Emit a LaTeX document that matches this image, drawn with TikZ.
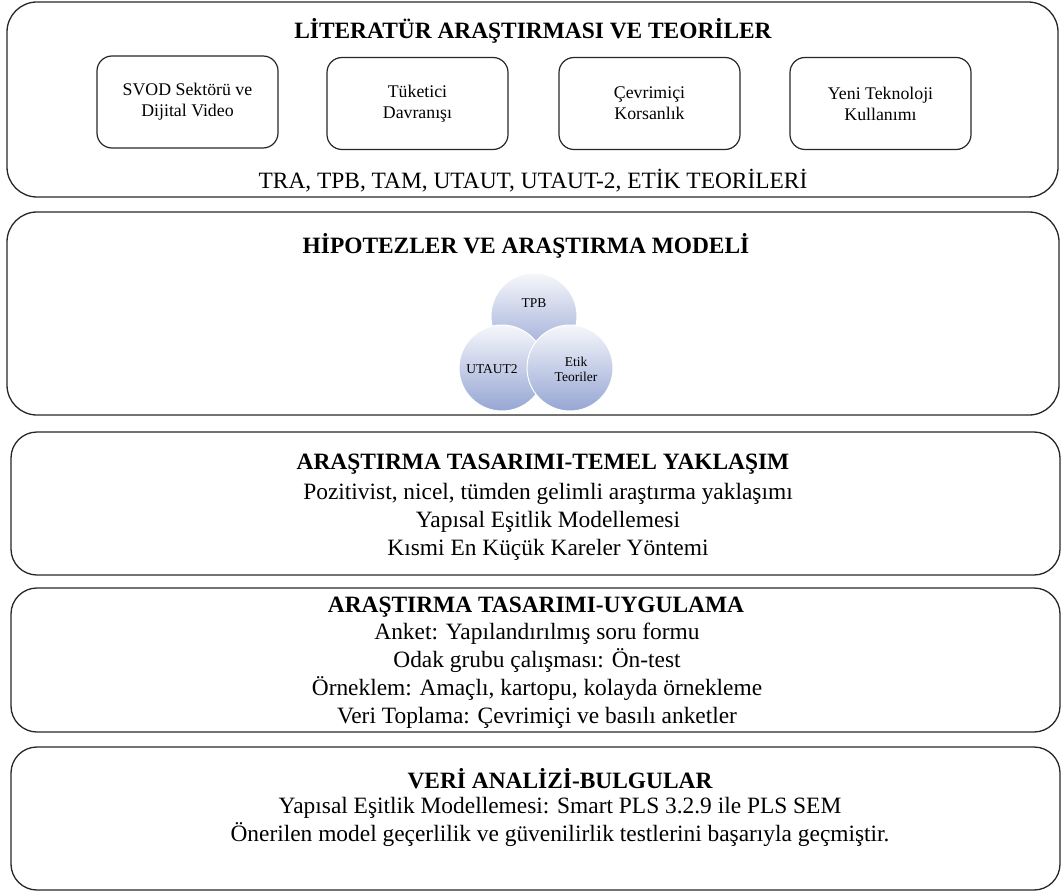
\documentclass[tikz,border=0pt]{standalone}
\usepackage{fontspec}
\setmainfont{Liberation Serif}
\definecolor{circtop}{RGB}{246,247,251}
\definecolor{circmid}{RGB}{214,221,238}
\definecolor{circbot}{RGB}{150,166,212}
\begin{document}
\begin{tikzpicture}[x=1pt,y=-1pt,
  bigbox/.style={draw=black!85,line width=1.3pt,rounded corners=26pt,inner sep=0pt},
  smallbox/.style={draw=black!85,line width=1.2pt,rounded corners=15pt,inner sep=0pt,minimum width=181pt,minimum height=92pt},
  smalltext/.style={align=center,font=\fontsize{17.8}{21}\selectfont},
  title/.style={font=\fontsize{23.4}{28}\selectfont\bfseries},
  body/.style={align=center,font=\fontsize{23.4}{28}\selectfont},
  circ/.style={circle,minimum size=86pt,inner sep=0pt,draw=white,line width=1pt,top color=circtop,middle color=circmid,bottom color=circbot},
  circtext/.style={align=center,font=\fontsize{13.5}{15}\selectfont}]
\useasboundingbox (0,0) rectangle (1062,893);
% Box 1
\node[bigbox,rounded corners=30pt,minimum width=1051pt,minimum height=195pt] (b1) at (532.5,99.5) {};
\node[title] (t1) at (533,31) {LİTERATÜR ARAŞTIRMASI VE TEORİLER};
\node[smallbox] (s1) at (187.5,102) {};
\node[smallbox] (s2) at (417.5,103.5) {};
\node[smallbox] (s3) at (649.5,103.5) {};
\node[smallbox] (s4) at (880.5,103.5) {};
\node[smalltext] at (s1) {SVOD Sektörü ve\\Dijital Video};
\node[smalltext] at (s2) {Tüketici\\Davranışı};
\node[smalltext] at (s3) {Çevrimiçi\\Korsanlık};
\node[smalltext] at (s4) {Yeni Teknoloji\\Kullanımı};
\node[body] (l1) at (533,181) {TRA, TPB, TAM, UTAUT, UTAUT-2, ETİK TEORİLERİ};
% Box 2
\node[bigbox,rounded corners=30pt,minimum width=1052pt,minimum height=203pt] (b2) at (533,313.5) {};
\node[title] (t2) at (526,246) {HİPOTEZLER VE ARAŞTIRMA MODELİ};
\node[circ] (c1) at (534,316) {};
\node[circ] (c2) at (502,368) {};
\node[circ] (c3) at (570,368) {};
\node[circtext] at (534,303) {TPB};
\node[circtext] at (492,369) {UTAUT2};
\node[circtext] at (576,369) {Etik\\Teoriler};
% Box 3
\node[bigbox,minimum width=1049pt,minimum height=143pt] (b3) at (535.5,503.5) {};
\node[title] (t3) at (543,464) {ARAŞTIRMA TASARIMI-TEMEL YAKLAŞIM};
\node[body] (x3) at (548,522) {Pozitivist, nicel, tümden gelimli araştırma yaklaşımı\\Yapısal Eşitlik Modellemesi\\Kısmi En Küçük Kareler Yöntemi};
% Box 4
\node[bigbox,minimum width=1049pt,minimum height=144pt] (b4) at (535.5,660) {};
\node[title] (t4) at (536,607) {ARAŞTIRMA TASARIMI-UYGULAMA};
\node[body] (x4) at (537,676) {Anket: Yapılandırılmış soru formu\\Odak grubu çalışması: Ön-test\\Örneklem: Amaçlı, kartopu, kolayda örnekleme\\Veri Toplama: Çevrimiçi ve basılı anketler};
% Box 5
\node[bigbox,minimum width=1049pt,minimum height=143pt] (b5) at (535.5,818.5) {};
\node[title] (t5) at (560,779) {VERİ ANALİZİ-BULGULAR};
\node[body] (x5) at (560,822) {Yapısal Eşitlik Modellemesi: Smart PLS 3.2.9 ile PLS SEM\\Önerilen model geçerlilik ve güvenilirlik testlerini başarıyla geçmiştir.};
\end{tikzpicture}
\end{document}
